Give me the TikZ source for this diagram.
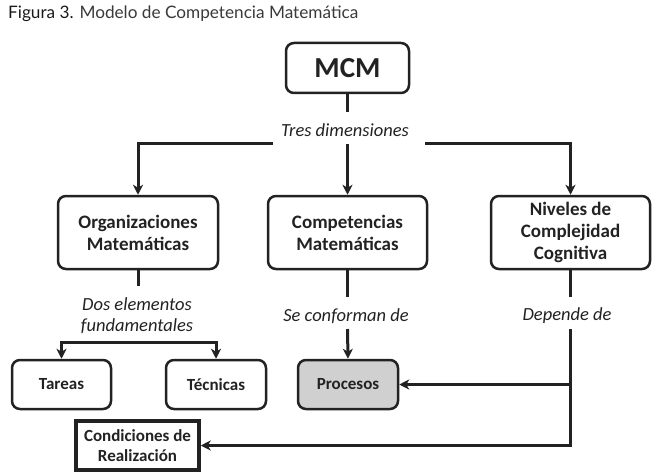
\documentclass[tikz,border=0pt]{standalone}
\usepackage{fontspec}
\setmainfont{Carlito}
\newfontfamily\titlefont{Lato}
\usetikzlibrary{arrows.meta}
\definecolor{ink}{HTML}{222222}
\definecolor{procfill}{HTML}{D0D0D0}
\begin{document}
\begin{tikzpicture}[x=1pt,y=-1pt,
  rbox/.style={draw=ink,line width=2.5pt,rounded corners=8pt,inner sep=0pt,align=center,text=ink,
    font=\bfseries\fontsize{19}{22}\selectfont},
  sbox/.style={rbox,font=\bfseries\fontsize{17}{20}\selectfont},
  lab/.style={text=ink,align=center,inner sep=0pt,font=\itshape\fontsize{18.5}{21}\selectfont},
  conn/.style={draw=ink,line width=3pt},
  arr/.style={conn,-{Stealth[length=10pt,width=10pt,inset=3pt]}}]
\useasboundingbox (0,0) rectangle (655,473);
% title
\node[anchor=base west,inner sep=0pt,font=\titlefont\fontsize{17.2}{20}\selectfont] (title) at (8,19)
  {\textcolor[HTML]{1A1A1A}{Figura 3.} \textcolor[HTML]{3A3A3A}{Modelo de Competencia Matemática}};
% boxes
\node[rbox,minimum width=123pt,minimum height=50pt,font=\bfseries\fontsize{29}{30}\selectfont] (mcm) at (347.5,68) {MCM};
\node[rbox,minimum width=160pt,minimum height=73pt] (org) at (138,232.5) {Organizaciones\\Matemáticas};
\node[rbox,minimum width=159pt,minimum height=73pt] (comp) at (347.5,232.5) {Competencias\\Matemáticas};
\node[rbox,minimum width=159pt,minimum height=73pt] (niv) at (570.5,232.5) {Niveles de\\Complejidad\\Cognitiva};
\node[sbox,minimum width=99pt,minimum height=49pt] (tar) at (61.5,384.5) {Tareas};
\node[sbox,minimum width=100pt,minimum height=49pt] (tec) at (216,384.5) {Técnicas};
\node[sbox,minimum width=100pt,minimum height=49pt,fill=procfill] (proc) at (348,384.5) {Procesos};
\node[sbox,rounded corners=0pt,line width=3.5pt,minimum width=123pt,minimum height=49pt] (cond) at (137.5,445.5) {Condiciones de\\Realización};
% labels
\node[lab] (td) at (345,130) {Tres dimensiones};
\node[lab] (de) at (137,315.5) {Dos elementos\\fundamentales};
\node[lab] (sc) at (346,316) {Se conforman de};
\node[lab] (dd) at (567,316) {Depende de};
% coordinates
\coordinate (c1) at (347.5,112);
\coordinate (c2) at (347.5,144);
\coordinate (bl) at (273,144);
\coordinate (br) at (425,144);
\coordinate (l1) at (138,286);
\coordinate (lb) at (138,342);
\coordinate (m1) at (347.5,297);
\coordinate (m2) at (347.5,329);
\coordinate (r1) at (570.5,297);
\coordinate (r2) at (570.5,329);
\coordinate (rj) at (570.5,384.5);
% connectors
\draw[conn] (mcm.south) -- (c1);
\draw[arr] (c2) -- (comp.north);
\draw[arr] (bl) -| (org.north);
\draw[arr] (br) -| (niv.north);
\draw[conn] (org.south) -- (l1);
\draw[arr] (lb) -| (tar.north);
\draw[arr] (lb) -| (tec.north);
\draw[conn] (comp.south) -- (m1);
\draw[arr] (m2) -- (proc.north);
\draw[conn] (niv.south) -- (r1);
\draw[arr] (r2) |- (cond.east);
\draw[arr] (rj) -- (proc.east);
\end{tikzpicture}
\end{document}
